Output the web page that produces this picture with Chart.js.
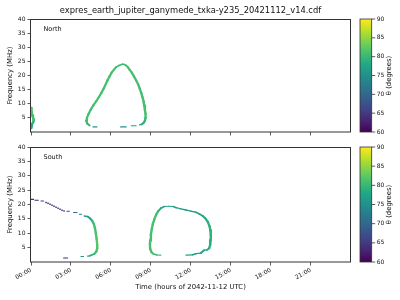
<!DOCTYPE html>
<html><head><meta charset="utf-8">
<script src="https://cdn.jsdelivr.net/npm/chart.js@4"></script>
<style>
html,body{margin:0;padding:0;background:#fff;}
#wrap{position:relative;width:400px;height:300px;overflow:hidden;}
canvas{position:absolute;left:0;}
</style></head><body>
<div id="wrap">
<canvas id="cTop" width="400" height="140" style="top:0px;width:400px;height:140px"></canvas>
<canvas id="cBot" width="400" height="160" style="top:140px;width:400px;height:160px"></canvas>
</div>
<script>
// ---- texts ----
const FIG_TITLE = 'expres_earth_jupiter_ganymede_txka-y235_20421112_v14.cdf';
const PANEL_LABELS = ['North', 'South'];
const X_TITLE = 'Time (hours of 2042-11-12 UTC)';
const Y_TITLE = 'Frequency (MHz)';
const CB_TITLE = 'θ (degrees)';

// ---- axes ----
const timeRange = [0, 23.95];
const freqRange = [0, 40];
const thetaRange = [60, 90];
const xTickHours = [0, 3, 6, 9, 12, 15, 18, 21];
const xTickLabels = ['00:00', '03:00', '06:00', '09:00', '12:00', '15:00', '18:00', '21:00'];
const yTickValues = [5, 10, 15, 20, 25, 30, 35, 40];
const cbTickValues = [60, 65, 70, 75, 80, 85, 90];

// ---- North hemisphere tracks (time h, frequency MHz, theta deg) ----
const northTime = [
  [0.03, 0.05, 0.08, 0.15, 0.22, 0.18, 0.10, 0.05, 0.03],
  [4.40, 4.22, 4.15, 4.20, 4.33, 4.48, 4.68, 4.90, 5.10, 5.28, 5.45, 5.60, 5.75, 5.90, 6.05, 6.23, 6.40, 6.60, 6.85, 7.00,
   7.15, 7.28, 7.40, 7.57, 7.73, 7.90, 8.05, 8.17, 8.28, 8.37, 8.45, 8.50, 8.55, 8.60, 8.60, 8.55, 8.45, 8.30, 8.15],
  [7.53, 7.90],
  [6.73, 7.15],
  [4.65, 4.95]
];
const northFreq = [
  [8.5, 7.0, 6.0, 5.0, 4.4, 3.6, 3.0, 2.2, 1.4],
  [2.3, 3.0, 4.0, 5.0, 6.5, 7.9, 9.4, 10.9, 12.4, 13.8, 15.3, 16.8, 18.3, 19.7, 21.0, 22.1, 23.0, 23.5, 24.0, 23.9,
   23.5, 22.9, 22.1, 21.0, 19.7, 18.2, 16.8, 15.3, 13.8, 12.3, 10.9, 9.4, 7.9, 6.5, 5.0, 4.0, 3.2, 2.7, 2.55],
  [2.2, 2.2],
  [1.8, 1.8],
  [1.8, 1.8]
];
const northTheta = [
  [82, 82, 81, 81, 81, 80, 79, 78, 77],
  [78, 80, 81, 81, 81, 81, 81, 81, 81, 81, 81, 81, 81, 81, 81, 81, 81, 81, 80, 80,
   81, 81, 81, 81, 81, 81, 81, 81, 81, 81, 81, 81, 81, 81, 81, 80, 79, 78, 78],
  [77, 77],
  [75, 75],
  [75, 75]
];

// ---- South hemisphere tracks ----
const southTime = [
  [0.00, 0.20],
  [0.30, 0.55],
  [0.75, 0.95],
  [2.70, 2.88],
  [3.20, 3.45],
  [3.63, 3.80],
  [4.00, 4.25, 4.45, 4.60, 4.72, 4.80, 4.87, 4.93, 4.97, 4.97, 4.90, 4.75, 4.55, 4.42, 4.25],
  [3.75, 3.95],
  [2.45, 2.75],
  [9.75, 9.45, 9.20, 9.05, 8.95, 8.93, 8.95, 9.00, 9.07, 9.15, 9.27, 9.40, 9.55, 9.75, 10.00, 10.35, 10.68, 10.90, 11.25, 11.63,
   12.00, 12.38, 12.65, 12.90, 13.10, 13.27, 13.40, 13.47, 13.50, 13.50, 13.45, 13.38, 13.20, 13.00, 12.75, 12.38, 12.13, 11.63]
];
const southFreq = [
  [21.8, 21.8],
  [21.5, 21.5],
  [21.2, 21.2],
  [17.65, 17.65],
  [17.2, 17.2],
  [16.6, 16.6],
  [16.0, 15.8, 15.1, 14.3, 13.2, 11.8, 10.0, 8.0, 6.0, 4.8, 3.6, 2.8, 2.4, 2.15, 2.05],
  [1.9, 1.9],
  [1.4, 1.4],
  [2.4, 2.45, 2.8, 3.4, 4.5, 6.0, 7.5, 9.5, 11.5, 13.3, 15.0, 16.5, 17.7, 18.7, 19.3, 19.4, 19.3, 18.9, 18.5, 18.1,
   17.7, 17.3, 16.7, 16.0, 15.1, 14.0, 12.5, 11.0, 9.5, 7.7, 6.0, 4.8, 4.2, 4.1, 3.1, 2.9, 2.5, 2.4]
];
const southTheta = [
  [64, 64],
  [64, 64],
  [65, 65],
  [67, 67],
  [70, 70],
  [72, 72],
  [75, 76, 77, 79, 81, 81, 81, 82, 82, 82, 81, 80, 79, 78, 77],
  [76, 76],
  [63, 63],
  [80, 80, 81, 81, 81, 81, 81, 81, 81, 81, 81, 81, 80, 79, 77, 77, 77, 77, 77, 77,
   77, 77, 77, 78, 78, 79, 79, 79, 79, 79, 79, 78, 78, 78, 77, 77, 77, 77]
];
// isolated dots of the South track
const southDotTime = [1.13, 1.28, 1.43, 1.58, 1.73, 1.88, 2.03, 2.18, 2.33, 2.48];
const southDotFreq = [20.67, 20.44, 20.09, 19.74, 19.40, 19.05, 18.70, 18.35, 18.00, 17.77];
const southDotTheta = [65, 65, 65, 65, 65, 66, 66, 66, 66, 66];

// ---- colormap (viridis) ----
const VIRIDIS = [[68,1,84],[72,36,117],[65,68,135],[53,95,141],[42,120,142],[33,145,140],[34,168,132],[68,191,112],[122,209,81],[189,223,38],[253,231,37]];
function viridis(theta) {
  let t = (theta - thetaRange[0]) / (thetaRange[1] - thetaRange[0]);
  t = Math.max(0, Math.min(1, t)) * (VIRIDIS.length - 1);
  const i = Math.min(VIRIDIS.length - 2, Math.floor(t)), f = t - i;
  const a = VIRIDIS[i], b = VIRIDIS[i + 1];
  return `rgb(${Math.round(a[0] + (b[0]-a[0])*f)},${Math.round(a[1] + (b[1]-a[1])*f)},${Math.round(a[2] + (b[2]-a[2])*f)})`;
}

const FONT = '"DejaVu Sans", "Liberation Sans", sans-serif';
const TEXT = '#111';

function trackDatasets(times, freqs, thetas) {
  return times.map((ts, k) => {
    const data = ts.map((x, i) => ({ x: x, y: freqs[k][i], t: thetas[k][i] }));
    return {
      type: 'line', data, pointRadius: 0, tension: 0,
      borderColor: viridis(thetas[k][0]), borderWidth: 1.5,
      borderCapStyle: 'round', borderJoinStyle: 'round',
      segment: {
        borderColor: c => viridis((data[c.p0DataIndex].t + data[c.p1DataIndex].t) / 2),
        borderWidth: c => {
          const dx = c.p1.x - c.p0.x, dy = c.p1.y - c.p0.y;
          const L = Math.hypot(dx, dy) || 1;
          return 1.1 + 1.3 * Math.abs(dy) / L;
        }
      }
    };
  });
}
function dotDataset(ts, fs, th) {
  const data = ts.map((x, i) => ({ x: x, y: fs[i], t: th[i] }));
  return {
    type: 'line', data, showLine: false, pointStyle: 'rect', pointRadius: 1.1, pointBorderWidth: 0,
    pointBackgroundColor: c => viridis(c.raw ? c.raw.t : 70)
  };
}

function decorPlugin(cfg) {
  return {
    id: 'decor',
    afterDraw(chart) {
      const ctx = chart.ctx, a = chart.chartArea;
      ctx.save();
      // frame (spines)
      ctx.lineWidth = 1;
      ctx.strokeStyle = '#333';
      ctx.strokeRect(Math.round(a.left) - 0.5, Math.round(a.top) + 0.5, Math.round(a.right - a.left) + 1, Math.round(a.bottom - a.top) - 0.5);
      // colorbar
      const cb = chart.scales.cb;
      const top = (cb && cb.bottom > cb.top) ? cb.getPixelForValue(thetaRange[1]) : a.top;
      const bot = (cb && cb.bottom > cb.top) ? cb.getPixelForValue(thetaRange[0]) : a.bottom;
      const pix = v => (cb && cb.bottom > cb.top) ? cb.getPixelForValue(v) : bot + (top - bot) * (v - thetaRange[0]) / (thetaRange[1] - thetaRange[0]);
      const x0 = a.right + 10, w = 11.7;
      const g = ctx.createLinearGradient(0, bot, 0, top);
      VIRIDIS.forEach((c, i) => g.addColorStop(i / (VIRIDIS.length - 1), `rgb(${c[0]},${c[1]},${c[2]})`));
      ctx.fillStyle = g;
      ctx.fillRect(x0, top, w, bot - top);
      ctx.lineWidth = 0.8;
      ctx.strokeStyle = '#333';
      ctx.strokeRect(x0, top, w, bot - top);
      ctx.font = `6px ${FONT}`;
      ctx.fillStyle = TEXT;
      ctx.textAlign = 'left';
      ctx.textBaseline = 'middle';
      cbTickValues.forEach(v => {
        const y = pix(v);
        ctx.beginPath(); ctx.moveTo(x0 + w, y); ctx.lineTo(x0 + w + 3.5, y); ctx.stroke();
        ctx.fillText(String(v), x0 + w + 5, y);
      });
      // colorbar title
      const cy = (a.top + a.bottom) / 2;
      ctx.font = `6.9px ${FONT}`;
      ctx.save(); ctx.translate(389.3, cy); ctx.rotate(-Math.PI / 2);
      ctx.textAlign = 'center'; ctx.textBaseline = 'middle';
      ctx.fillText(CB_TITLE, 0, 0); ctx.restore();
      // y title
      ctx.save(); ctx.translate(10.5, cy); ctx.rotate(-Math.PI / 2);
      ctx.textAlign = 'center'; ctx.textBaseline = 'middle';
      ctx.fillText(Y_TITLE, 0, 0); ctx.restore();
      // panel label
      ctx.font = `6.5px ${FONT}`;
      ctx.textAlign = 'left'; ctx.textBaseline = 'middle';
      ctx.fillText(cfg.label, a.left + 12.5, a.top + 10.5);
      const mid = (a.left + a.right) / 2;
      if (cfg.title) {
        ctx.font = `8.33px ${FONT}`;
        ctx.textAlign = 'center'; ctx.textBaseline = 'middle';
        ctx.fillText(cfg.title, mid, 10.5);
      }
      if (cfg.xTitle) {
        ctx.font = `6.9px ${FONT}`;
        ctx.textAlign = 'center'; ctx.textBaseline = 'middle';
        ctx.fillText(cfg.xTitle, mid, cfg.xTitleY);
      }
      ctx.restore();
    }
  };
}

function makeChart(id, datasets, cfg) {
  return new Chart(document.getElementById(id), {
    type: 'line',
    data: { datasets },
    options: {
      responsive: false, animation: false, devicePixelRatio: 1,
      events: [],
      layout: { padding: { left: 0, top: cfg.padTop, right: 50, bottom: 0 } },
      plugins: { legend: { display: false }, tooltip: { enabled: false }, title: { display: false } },
      scales: {
        x: {
          type: 'linear', min: timeRange[0], max: timeRange[1],
          afterBuildTicks: s => { s.ticks = xTickHours.map(v => ({ value: v })); },
          afterFit: s => { s.height = cfg.xHeight; },
          ticks: {
            display: cfg.showXLabels, autoSkip: false, maxRotation: 30, minRotation: 30,
            font: { family: FONT, size: 6 }, color: TEXT, padding: 1,
            callback: v => xTickLabels[xTickHours.indexOf(v)]
          },
          grid: { drawOnChartArea: false, drawTicks: true, tickLength: 3.5, tickColor: '#333', tickWidth: 0.8 },
          border: { display: false }
        },
        y: {
          type: 'linear', position: 'left', min: freqRange[0], max: freqRange[1],
          afterBuildTicks: s => { s.ticks = yTickValues.map(v => ({ value: v })); },
          afterFit: s => { s.width = 31; },
          ticks: { font: { family: FONT, size: 6 }, color: TEXT, padding: 2 },
          grid: { drawOnChartArea: false, drawTicks: true, tickLength: 3.5, tickColor: '#333', tickWidth: 0.8 },
          border: { display: false }
        },
        cb: { type: 'linear', axis: 'y', position: 'right', min: thetaRange[0], max: thetaRange[1], display: false }
      }
    },
    plugins: [decorPlugin(cfg)]
  });
}

makeChart('cTop', trackDatasets(northTime, northFreq, northTheta), {
  padTop: 19, xHeight: 8, showXLabels: false, label: PANEL_LABELS[0], title: FIG_TITLE
});
makeChart('cBot', trackDatasets(southTime, southFreq, southTheta).concat([dotDataset(southDotTime, southDotFreq, southDotTheta)]), {
  padTop: 7, xHeight: 38, showXLabels: true, label: PANEL_LABELS[1], xTitle: X_TITLE, xTitleY: 147.3
});
</script>
</body></html>
